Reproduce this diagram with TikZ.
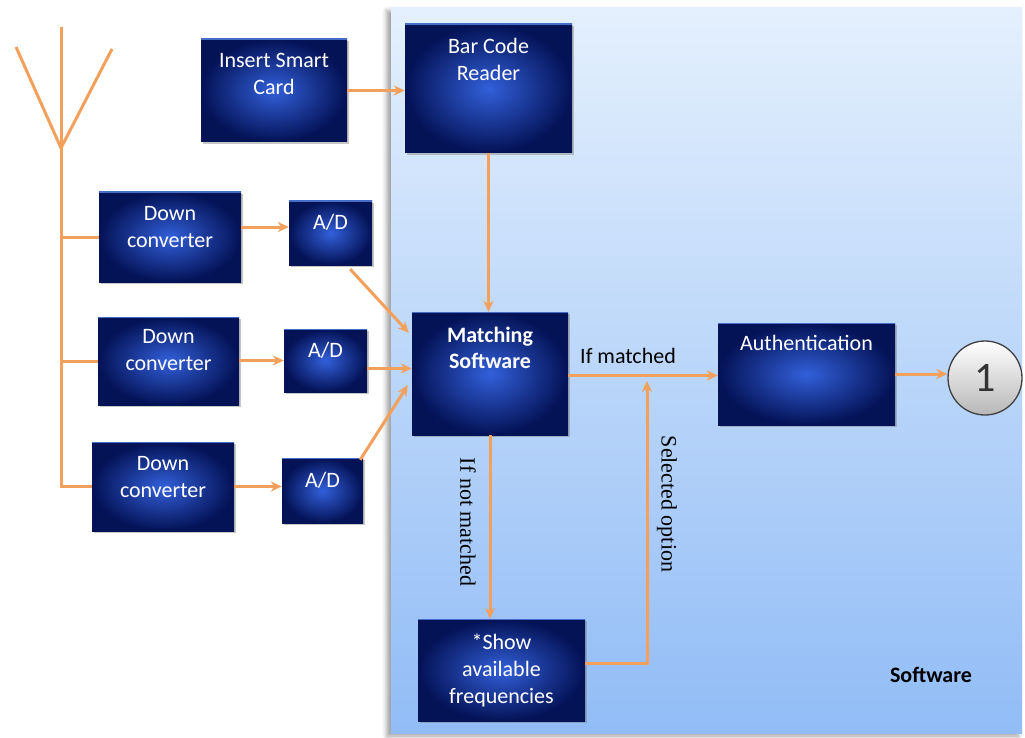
\documentclass[tikz,border=0pt]{standalone}
\usepackage{fontspec}
\setmainfont{Liberation Serif}
\setsansfont{Carlito}
\usetikzlibrary{arrows.meta,shadows,shadows.blur,calc}
\definecolor{wire}{RGB}{242,160,92}
\definecolor{navyin}{RGB}{50,96,218}
\definecolor{navyout}{RGB}{4,18,86}
\definecolor{navyrim}{RGB}{70,110,200}
\definecolor{paneltop}{RGB}{228,240,253}
\definecolor{panelbot}{RGB}{145,188,246}
\begin{document}
\begin{tikzpicture}[x=1pt,y=-1pt,
  blk/.style={inner color=navyin, outer color=navyout, inner sep=0pt,
    drop shadow={shadow xshift=2pt, shadow yshift=-2pt, opacity=.45},
    path picture={\draw[navyrim, line width=1.6pt]
      (path picture bounding box.north west) -- (path picture bounding box.north east);}},
  btxt/.style={text=white, font=\sffamily\fontsize{22}{27}\selectfont, align=center,
    inner sep=0pt, anchor=north},
  link/.style={draw=wire, line width=3pt},
  flow/.style={link, -{Stealth[length=11pt,width=10pt]}},
  note/.style={font=\sffamily\fontsize{22}{26}\selectfont, inner sep=0pt},
  side/.style={font=\rmfamily\fontsize{22}{26}\selectfont, inner sep=0pt, rotate=-90}]
\useasboundingbox (0,0) rectangle (1025,738);

% software panel
\path[top color=paneltop, bottom color=panelbot,
  blur shadow={shadow xshift=-4pt, shadow yshift=-3pt, shadow blur radius=5pt}]
  (391,8) rectangle (1022,733);
\node[font=\sffamily\bfseries\fontsize{22}{26}\selectfont, inner sep=0pt] (swlbl) at (931,675) {Software};

% blocks
\node[blk, minimum width=146pt, minimum height=103pt] (isc) at (274,90.5) {};
\node[blk, minimum width=167pt, minimum height=129pt] (bcr) at (488.5,88.5) {};
\node[blk, minimum width=142pt, minimum height=90pt] (dc1) at (170,237) {};
\node[blk, minimum width=83pt, minimum height=64pt] (ad1) at (330.5,233) {};
\node[blk, minimum width=141pt, minimum height=88pt] (dc2) at (168.5,361) {};
\node[blk, minimum width=83pt, minimum height=63pt] (ad2) at (325.5,360.5) {};
\node[blk, minimum width=142pt, minimum height=89pt] (dc3) at (163,486.5) {};
\node[blk, minimum width=81pt, minimum height=65pt] (ad3) at (322.5,490.5) {};
\node[blk, minimum width=156pt, minimum height=123pt] (ms) at (490,373.5) {};
\node[blk, minimum width=177pt, minimum height=102pt] (auth) at (806.5,374) {};
\node[blk, minimum width=167pt, minimum height=102pt] (show) at (501.5,670) {};
\node[circle, minimum size=74pt, inner sep=0pt, draw=black!75, line width=1.3pt,
  top color=white, bottom color=black!28,
  font=\sffamily\fontsize{42}{42}\selectfont, text=black!80] (one) at (985,378) {1};

% block captions
\node[btxt] (isct) at ($(isc.north)+(0,14)$) {Insert Smart\\Card};
\node[btxt] (bcrt) at ($(bcr.north)+(0,14)$) {Bar Code\\Reader};
\node[btxt] (dc1t) at ($(dc1.north)+(0,14)$) {Down\\converter};
\node[btxt] (dc2t) at ($(dc2.north)+(0,12)$) {Down\\converter};
\node[btxt] (dc3t) at ($(dc3.north)+(0,14)$) {Down\\converter};
\node[btxt] (ad1t) at ($(ad1.north)+(0,13)$) {A/D};
\node[btxt] (ad2t) at ($(ad2.north)+(0,13)$) {A/D};
\node[btxt] (ad3t) at ($(ad3.north)+(0,14)$) {A/D};
\node[btxt, font=\sffamily\bfseries\fontsize{22}{26}\selectfont] (mst) at ($(ms.north)+(0,15)$) {Matching\\Software};
\node[btxt] (autht) at ($(auth.north)+(0,12)$) {Authentication};
\node[btxt] (showt) at ($(show.north)+(0,15)$) {*Show\\available\\frequencies};

% antenna
\coordinate (mtop) at (61,27);
\coordinate (vj) at (61,148);
\coordinate (armL) at (16,47);
\coordinate (armR) at (112,49);
\draw[link] (armL) -- (vj) -- (armR);
\draw[link] (mtop) -- (vj |- dc3.west) -- (dc3.west);
\draw[link] (vj |- dc1.west) -- (dc1.west);
\draw[link] (vj |- dc2.west) -- (dc2.west);

% signal path
\draw[flow] (isc.east) -- (isc.east -| bcr.west);
\draw[flow] (bcr.south) -- (bcr.south |- ms.north);
\draw[flow] ([yshift=6pt]dc1.east |- ad1.west) -- ([yshift=6pt]ad1.west);
\draw[flow] (dc2.east |- ad2.west) -- (ad2.west);
\draw[flow] (dc3.east) -- (dc3.east -| ad3.west);
\draw[flow] ($(ad1.south east)+(-22,4)$) -- ($(ms.north west)+(-3,21)$);
\draw[flow] ([yshift=-8pt]ad2.east) -- ([yshift=-8pt]ad2.east -| ms.west);
\draw[flow] ($(ad3.north east)+(-3,2)$) -- ($(ms.south west)+(-4,-50)$);

% decision branches
\draw[flow] ([yshift=-2pt]ms.east) -- ([yshift=-2pt]ms.east -| auth.west)
  node[note, pos=.4, above=10pt] (ifm) {If matched};
\draw[flow] (auth.east) -- (auth.east -| one.west);
\draw[flow] (ms.south) -- (ms.south |- show.north);
\node[side] (ifnm) at (468,522) {If not matched};
\coordinate (selb) at (647,663);
\coordinate (selt) at (647,381);
\draw[flow] (show.east |- selb) -- (selb) -- (selt);
\node[side] (selo) at (667,504) {Selected option};
\end{tikzpicture}
\end{document}
